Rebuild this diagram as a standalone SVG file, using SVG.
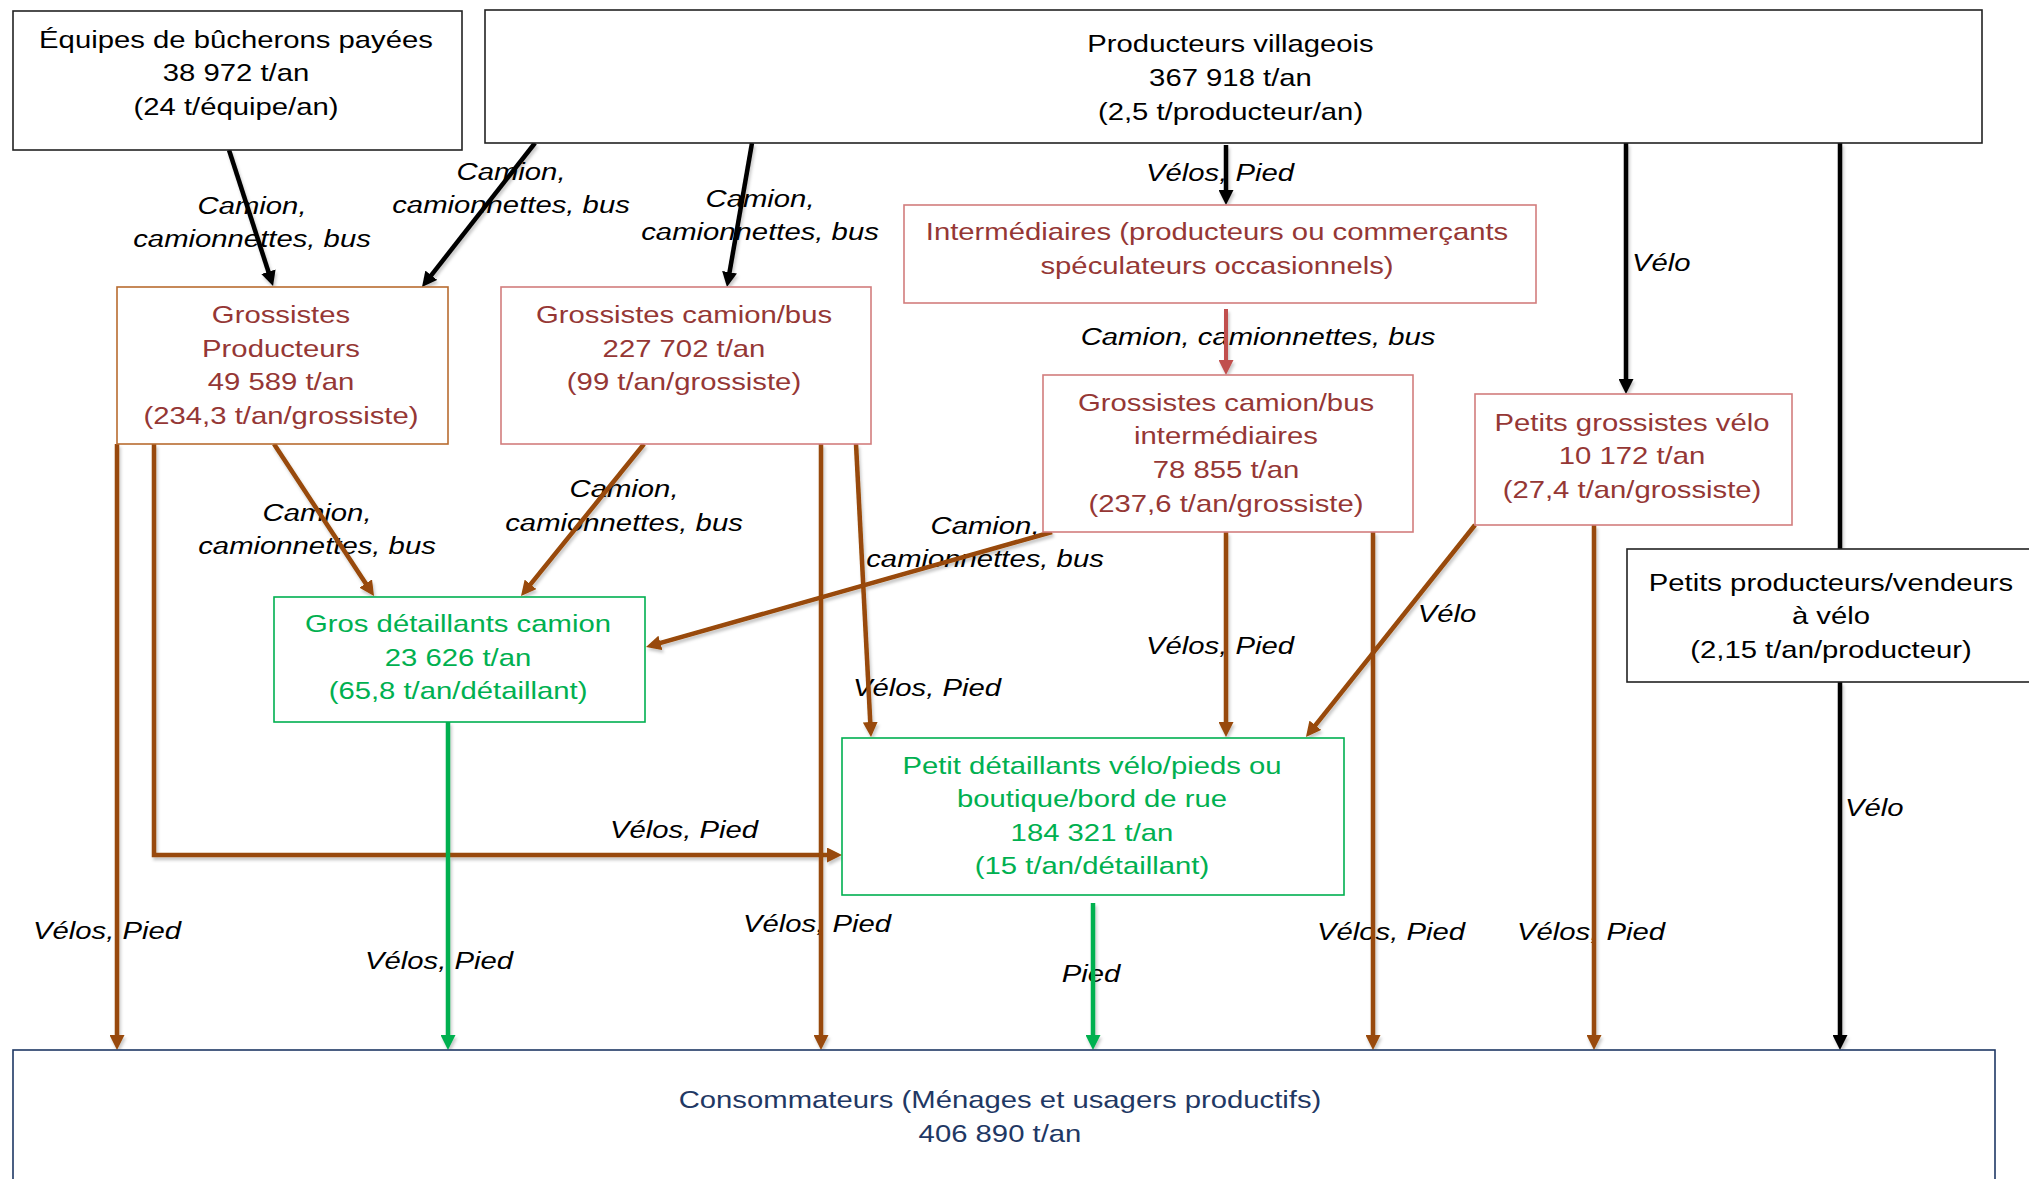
<svg xmlns="http://www.w3.org/2000/svg" width="2029" height="1179" viewBox="0 0 2029 1179">
<style>
.t{font-family:"Liberation Sans",Arial,Helvetica,sans-serif;font-size:24px;text-anchor:middle}
.l{font-style:italic;fill:#000}
.k{fill:#000}.r{fill:#953735}.g{fill:#00B050}.n{fill:#1F3864}
.bx{fill:#fff;stroke-width:1.6}
.bk{stroke:#222}.bb{stroke:#B86C30}.br{stroke:#D27D7D}.bg{stroke:#00B050}.bn{stroke:#1F3864}
.c{fill:none;stroke-width:4.5;stroke-linecap:butt}
.ck{stroke:#000}.cb{stroke:#984807}.cg{stroke:#00B050}.cr{stroke:#C0504D;stroke-width:4}
</style>
<defs>
<filter id="sh" x="-20%" y="-20%" width="140%" height="140%">
<feDropShadow dx="1.5" dy="3" stdDeviation="1.8" flood-color="#000" flood-opacity="0.22"/>
</filter>
<marker id="ak" viewBox="0 0 15 15" refX="9" refY="7.5" markerWidth="15" markerHeight="15" markerUnits="userSpaceOnUse" orient="auto"><path d="M0,0 L15,7.5 L0,15 z" fill="#000"/></marker>
<marker id="ab" viewBox="0 0 15 15" refX="9" refY="7.5" markerWidth="15" markerHeight="15" markerUnits="userSpaceOnUse" orient="auto"><path d="M0,0 L15,7.5 L0,15 z" fill="#984807"/></marker>
<marker id="ag" viewBox="0 0 15 15" refX="9" refY="7.5" markerWidth="15" markerHeight="15" markerUnits="userSpaceOnUse" orient="auto"><path d="M0,0 L15,7.5 L0,15 z" fill="#00B050"/></marker>
<marker id="ar" viewBox="0 0 15 15" refX="9" refY="7.5" markerWidth="15" markerHeight="15" markerUnits="userSpaceOnUse" orient="auto"><path d="M0,0 L15,7.5 L0,15 z" fill="#C0504D"/></marker>
</defs>
<rect width="2029" height="1179" fill="#fff"/>

<g id="labels" class="t l">
<text transform="matrix(1.22 0 0 1 252 0)"><tspan x="0" y="214">Camion,</tspan><tspan x="0" y="247">camionnettes, bus</tspan></text>
<text transform="matrix(1.22 0 0 1 511 0)"><tspan x="0" y="180">Camion,</tspan><tspan x="0" y="213.5">camionnettes, bus</tspan></text>
<text transform="matrix(1.22 0 0 1 760 0)"><tspan x="0" y="207">Camion,</tspan><tspan x="0" y="240">camionnettes, bus</tspan></text>
<text transform="matrix(1.22 0 0 1 1220 0)" x="0" y="181">Vélos, Pied</text>
<text transform="matrix(1.22 0 0 1 1632 0)" x="0" y="271" style="text-anchor:start">Vélo</text>
<text transform="matrix(1.22 0 0 1 1258 0)" x="0" y="345">Camion, camionnettes, bus</text>
<text transform="matrix(1.22 0 0 1 317 0)"><tspan x="0" y="521">Camion,</tspan><tspan x="0" y="554.5">camionnettes, bus</tspan></text>
<text transform="matrix(1.22 0 0 1 624 0)"><tspan x="0" y="497">Camion,</tspan><tspan x="0" y="531">camionnettes, bus</tspan></text>
<text transform="matrix(1.22 0 0 1 985 0)"><tspan x="0" y="534">Camion,</tspan><tspan x="0" y="567.5">camionnettes, bus</tspan></text>
<text transform="matrix(1.22 0 0 1 927 0)" x="0" y="696">Vélos, Pied</text>
<text transform="matrix(1.22 0 0 1 1220 0)" x="0" y="654.5">Vélos, Pied</text>
<text transform="matrix(1.22 0 0 1 1447 0)" x="0" y="622.5">Vélo</text>
<text transform="matrix(1.22 0 0 1 684 0)" x="0" y="838.5">Vélos, Pied</text>
<text transform="matrix(1.22 0 0 1 107 0)" x="0" y="939.5">Vélos, Pied</text>
<text transform="matrix(1.22 0 0 1 439 0)" x="0" y="969">Vélos, Pied</text>
<text transform="matrix(1.22 0 0 1 817 0)" x="0" y="932">Vélos, Pied</text>
<text transform="matrix(1.22 0 0 1 1091 0)" x="0" y="982.5">Pied</text>
<text transform="matrix(1.22 0 0 1 1391 0)" x="0" y="940">Vélos, Pied</text>
<text transform="matrix(1.22 0 0 1 1591 0)" x="0" y="940">Vélos, Pied</text>
<text transform="matrix(1.22 0 0 1 1845 0)" x="0" y="816" style="text-anchor:start">Vélo</text>
</g>

<g id="connectors" filter="url(#sh)">
<path class="c ck" d="M229,150 L271.2,280.3" marker-end="url(#ak)"/>
<path class="c ck" d="M535,143 L425.7,282.3" marker-end="url(#ak)"/>
<path class="c ck" d="M752,143 L728,281.1" marker-end="url(#ak)"/>
<path class="c ck" d="M1226,145 V199" marker-end="url(#ak)"/>
<path class="c ck" d="M1626,143 V388" marker-end="url(#ak)"/>
<path class="c ck" d="M1840,143 V549"/>
<path class="c ck" d="M1840,682 V1044" marker-end="url(#ak)"/>
<path class="c cr" d="M1226,309 V369" marker-end="url(#ar)"/>
<path class="c cb" d="M117,444 V1044" marker-end="url(#ab)"/>
<path class="c cb" d="M154,444 V855 H836" marker-end="url(#ab)"/>
<path class="c cb" d="M274,444 L370.7,591" marker-end="url(#ab)"/>
<path class="c cb" d="M644,444 L524.8,591.3" marker-end="url(#ab)"/>
<path class="c cb" d="M821,444 V1044" marker-end="url(#ab)"/>
<path class="c cb" d="M856,444 L870.7,731" marker-end="url(#ab)"/>
<path class="c cb" d="M1052,532 L651.8,645.4" marker-end="url(#ab)"/>
<path class="c cb" d="M1226,532 V731" marker-end="url(#ab)"/>
<path class="c cb" d="M1373,532 V1044" marker-end="url(#ab)"/>
<path class="c cb" d="M1475,525 L1309.7,732.3" marker-end="url(#ab)"/>
<path class="c cb" d="M1594,525 V1044" marker-end="url(#ab)"/>
<path class="c cg" d="M448,722 V1044" marker-end="url(#ag)"/>
<path class="c cg" d="M1093,903 V1044" marker-end="url(#ag)"/>
</g>

<g id="equipes">
<rect class="bx bk" x="13" y="11" width="449" height="139"/>
<text class="t k" transform="matrix(1.22 0 0 1 236 0)"><tspan x="0" y="48">Équipes de bûcherons payées</tspan><tspan x="0" y="81.5">38 972 t/an</tspan><tspan x="0" y="115">(24 t/équipe/an)</tspan></text>
</g>
<g id="producteurs-villageois">
<rect class="bx bk" x="485" y="10" width="1497" height="133"/>
<text class="t k" transform="matrix(1.22 0 0 1 1230.5 0)"><tspan x="0" y="52">Producteurs villageois</tspan><tspan x="0" y="86">367 918 t/an</tspan><tspan x="0" y="120">(2,5 t/producteur/an)</tspan></text>
</g>
<g id="grossistes-producteurs">
<rect class="bx bb" x="117" y="287" width="331" height="157"/>
<text class="t r" transform="matrix(1.22 0 0 1 281 0)"><tspan x="0" y="323.5">Grossistes</tspan><tspan x="0" y="357">Producteurs</tspan><tspan x="0" y="390.5">49 589 t/an</tspan><tspan x="0" y="424">(234,3 t/an/grossiste)</tspan></text>
</g>
<g id="grossistes-camion-bus">
<rect class="bx br" x="501" y="287" width="370" height="157"/>
<text class="t r" transform="matrix(1.22 0 0 1 684 0)"><tspan x="0" y="323.5">Grossistes camion/bus</tspan><tspan x="0" y="357">227 702 t/an</tspan><tspan x="0" y="390.5">(99 t/an/grossiste)</tspan></text>
</g>
<g id="intermediaires">
<rect class="bx br" x="904" y="205" width="632" height="98"/>
<text class="t r" transform="matrix(1.22 0 0 1 1217 0)"><tspan x="0" y="240.5">Intermédiaires (producteurs ou commerçants</tspan><tspan x="0" y="274">spéculateurs occasionnels)</tspan></text>
</g>
<g id="grossistes-intermediaires">
<rect class="bx br" x="1043" y="375" width="370" height="157"/>
<text class="t r" transform="matrix(1.22 0 0 1 1226 0)"><tspan x="0" y="411">Grossistes camion/bus</tspan><tspan x="0" y="444.5">intermédiaires</tspan><tspan x="0" y="478">78 855 t/an</tspan><tspan x="0" y="512">(237,6 t/an/grossiste)</tspan></text>
</g>
<g id="petits-grossistes-velo">
<rect class="bx br" x="1475" y="394" width="317" height="131"/>
<text class="t r" transform="matrix(1.22 0 0 1 1632 0)"><tspan x="0" y="431">Petits grossistes vélo</tspan><tspan x="0" y="464.5">10 172 t/an</tspan><tspan x="0" y="498">(27,4 t/an/grossiste)</tspan></text>
</g>
<g id="petits-producteurs-velo">
<rect class="bx bk" x="1627" y="549" width="460" height="133"/>
<text class="t k" transform="matrix(1.22 0 0 1 1831 0)"><tspan x="0" y="591">Petits producteurs/vendeurs</tspan><tspan x="0" y="624.5">à vélo</tspan><tspan x="0" y="658">(2,15 t/an/producteur)</tspan></text>
</g>
<g id="gros-detaillants">
<rect class="bx bg" x="274" y="597" width="371" height="125"/>
<text class="t g" transform="matrix(1.22 0 0 1 458 0)"><tspan x="0" y="632.5">Gros détaillants camion</tspan><tspan x="0" y="666">23 626 t/an</tspan><tspan x="0" y="699.5">(65,8 t/an/détaillant)</tspan></text>
</g>
<g id="petits-detaillants">
<rect class="bx bg" x="842" y="738" width="502" height="157"/>
<text class="t g" transform="matrix(1.22 0 0 1 1092 0)"><tspan x="0" y="774">Petit détaillants vélo/pieds ou</tspan><tspan x="0" y="807.5">boutique/bord de rue</tspan><tspan x="0" y="841">184 321 t/an</tspan><tspan x="0" y="874.5">(15 t/an/détaillant)</tspan></text>
</g>
<g id="consommateurs">
<rect class="bx bn" x="13" y="1050" width="1982" height="160"/>
<text class="t n" transform="matrix(1.22 0 0 1 1000 0)"><tspan x="0" y="1108.5">Consommateurs (Ménages et usagers productifs)</tspan><tspan x="0" y="1142">406 890 t/an</tspan></text>
</g>
</svg>
